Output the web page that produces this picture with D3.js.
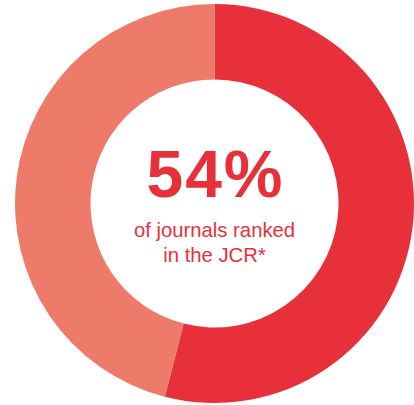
<!DOCTYPE html>
<html>
<head>
<meta charset="utf-8">
<script src="https://cdn.jsdelivr.net/npm/d3@7"></script>
<style>
  html, body { margin: 0; padding: 0; background: #fff; }
  svg { display: block; }
</style>
</head>
<body>
<svg id="chart"></svg>
<script>
// Share of journals ranked in the JCR
const categories = ["Ranked in JCR", "Not ranked"]
const values = [54, 46]
const colors = ["#e8303a", "#ee7a69"]
const headline = "54%"
const captionLines = ["of journals ranked", "in the JCR*"]

const WIDTH = 414
const HEIGHT = 405
const CX = 214.5
const CY = 203.5
const OUTER = 199.5
const INNER = 124

const svg = d3.select("#chart").attr("width", WIDTH).attr("height", HEIGHT)
const g = svg.append("g").attr("transform", `translate(${CX},${CY})`)

const pie = d3.pie().sort(null).value((d) => d)
const arc = d3.arc().innerRadius(INNER).outerRadius(OUTER)

g.selectAll("path")
  .data(pie(values))
  .join("path")
  .attr("d", arc)
  .attr("fill", (_d, i) => colors[i])
  .append("title")
  .text((d, i) => `${categories[i]}: ${d.data}%`)

// centre label
g.append("text")
  .attr("text-anchor", "middle")
  .attr("x", 1)
  .attr("y", -6.5)
  .attr("font-family", "Liberation Sans, Arial, sans-serif")
  .attr("font-weight", "bold")
  .attr("font-size", 66)
  .attr("letter-spacing", 2)
  .attr("fill", "#e8303a")
  .text(headline)

g.selectAll("text.caption")
  .data(captionLines)
  .join("text")
  .attr("class", "caption")
  .attr("text-anchor", "middle")
  .attr("y", (_d, i) => 33.5 + i * 25)
  .attr("font-family", "Liberation Sans, Arial, sans-serif")
  .attr("font-size", 20.3)
  .attr("fill", "#e8303a")
  .text((d) => d)
</script>
</body>
</html>
